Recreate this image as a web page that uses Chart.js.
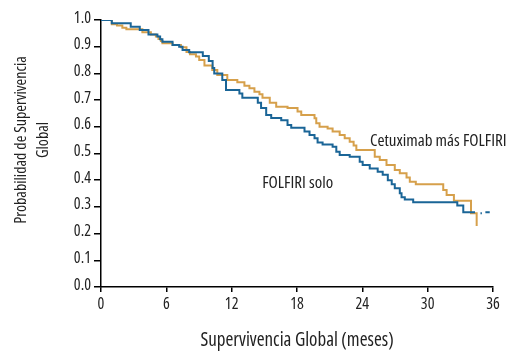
<!DOCTYPE html>
<html>
<head>
<meta charset="utf-8">
<script src="https://cdn.jsdelivr.net/npm/chart.js@4.4.0/dist/chart.umd.min.js"></script>
<style>
html, body { margin: 0; padding: 0; background: #fff; }
#km { display: block; }
</style>
</head>
<body>
<canvas id="km" width="518" height="353"></canvas>
<script>
var FONT = '"Open Sans", "Liberation Sans", sans-serif';
var STRETCH = 'condensed'; // narrow face, like the original's condensed sans

// Axis ticks
var xTicks = [0, 6, 12, 18, 24, 30, 36];
var yTicks = [0, 0.1, 0.2, 0.3, 0.4, 0.5, 0.6, 0.7, 0.8, 0.9, 1.0];

// FOLFIRI solo
var soloMonths = [0, 0.99, 2.73, 3.56, 4.36, 5.18, 5.43, 5.64, 6.57, 7.18, 7.49, 8.10, 9.35, 9.9, 10.25, 10.4,
    11.14, 11.48, 12.71, 12.98, 14.4, 14.7, 15.17, 15.63, 16.55, 17.13, 17.47, 18.69, 19.15, 19.61, 19.89,
    20.35, 21.27, 21.61, 21.92, 22.84, 23.76, 24.03, 24.68, 25.41, 25.87, 26.34, 26.7, 26.98, 27.44, 27.6,
    27.9, 28.67, 32.72, 33.27, 34.35, 34.6, 34.85, 34.98, 35.1, 35.3, 35.7];
var soloSurv = [1.0, 0.988, 0.975, 0.963, 0.946, 0.938, 0.928, 0.919, 0.906, 0.900, 0.888, 0.879, 0.865, 0.846, 0.82, 0.80,
    0.775, 0.738, 0.725, 0.709, 0.69, 0.67, 0.644, 0.633, 0.625, 0.607, 0.596, 0.582, 0.569, 0.557, 0.541,
    0.534, 0.525, 0.507, 0.494, 0.488, 0.469, 0.457, 0.444, 0.432, 0.42, 0.40, 0.385, 0.37, 0.351, 0.336,
    0.328, 0.317, 0.305, 0.28, 0.28, null, 0.276, 0.276, null, 0.28, 0.28];

// Cetuximab más FOLFIRI
var cetuxMonths = [0, 0.99, 1.47, 1.96, 2.33, 3.80, 4.58, 5.04, 5.28, 5.50, 5.64, 6.57, 7.34, 7.85, 8.17, 8.72,
    9.02, 9.5, 10.22, 10.68, 11.6, 12.52, 13.17, 13.63, 14.09, 14.55, 14.83, 15.5, 16.09, 17.13, 18.05, 18.39,
    19.61, 19.77, 20.07, 20.81, 21.27, 21.92, 22.38, 22.84, 23.2, 23.45, 25.14, 25.6, 26.22, 26.98, 27.44,
    28.06, 28.36, 28.91, 31.43, 31.74, 32.41, 33.98, 34.5];
var cetuxSurv = [1.0, 0.984, 0.979, 0.971, 0.965, 0.954, 0.946, 0.938, 0.929, 0.921, 0.913, 0.906, 0.898, 0.88, 0.872, 0.863,
    0.85, 0.83, 0.813, 0.794, 0.775, 0.767, 0.754, 0.744, 0.731, 0.722, 0.709, 0.69, 0.675, 0.67, 0.657, 0.644,
    0.632, 0.613, 0.60, 0.594, 0.582, 0.569, 0.557, 0.544, 0.53, 0.513, 0.488, 0.476, 0.457, 0.438, 0.426,
    0.41, 0.394, 0.385, 0.363, 0.345, 0.323, 0.276, 0.228];

var seriesNames = ['FOLFIRI solo', 'Cetuximab más FOLFIRI'];
var seriesColors = ['#1a6597', '#d6a04b'];
// where the curve labels sit, in data units [month, survival]
var labelSpots = [[14.8, 0.371], [24.7, 0.528]];

function toPoints(xs, ys) {
    var pts = [];
    for (var i = 0; i < xs.length; i++) {
        pts.push({x: xs[i], y: ys[i]});
    }
    return pts;
}

// Curve labels and the two-line y title
var textPlugin = {
    id: 'kmText',
    afterDraw: function(chart) {
        var ctx = chart.ctx;
        var xs = chart.scales.x, ys = chart.scales.y;
        ctx.save();
        ctx.fillStyle = '#222';
        ctx.font = STRETCH + ' 17px ' + FONT;
        ctx.textAlign = 'left';
        ctx.textBaseline = 'alphabetic';
        for (var i = 0; i < seriesNames.length; i++) {
            ctx.fillText(seriesNames[i], xs.getPixelForValue(labelSpots[i][0]), ys.getPixelForValue(labelSpots[i][1]));
        }
        ctx.translate(0, 140);
        ctx.rotate(-Math.PI / 2);
        ctx.textAlign = 'center';
        ctx.textBaseline = 'middle';
        ctx.font = STRETCH + ' 16px ' + FONT;
        ctx.fillText('Probabilidad de Supervivencia', 0, 21);
        ctx.fillText('Global', 0, 43);
        ctx.restore();
    }
};

var ctx = document.getElementById('km').getContext('2d');
var kmChart = new Chart(ctx, {
    type: 'line',
    data: {
        datasets: [
            {
                label: seriesNames[0],
                data: toPoints(soloMonths, soloSurv),
                borderColor: seriesColors[0],
                borderWidth: 2,
                stepped: true,
                pointRadius: 0,
                fill: false,
                spanGaps: false
            },
            {
                label: seriesNames[1],
                data: toPoints(cetuxMonths, cetuxSurv),
                borderColor: seriesColors[1],
                borderWidth: 2,
                stepped: true,
                pointRadius: 0,
                fill: false
            }
        ]
    },
    options: {
        responsive: false,
        animation: false,
        layout: {padding: {top: 20, right: 25, left: 0, bottom: 0}},
        plugins: {
            legend: {display: false},
            tooltip: {enabled: false}
        },
        scales: {
            x: {
                type: 'linear',
                min: 0,
                max: 36,
                afterBuildTicks: function(scale) {
                    scale.ticks = xTicks.map(function(v) { return {value: v}; });
                },
                afterFit: function(scale) { scale.height = 66; },
                grid: {display: true, drawOnChartArea: false, drawTicks: true, tickLength: 5, color: '#000', lineWidth: 1.5},
                border: {display: true, color: '#000', width: 1.5},
                ticks: {color: '#222', font: {family: FONT, size: 16, weight: STRETCH}, padding: 3, maxRotation: 0},
                title: {display: true, text: 'Supervivencia Global (meses)', color: '#222',
                    font: {family: FONT, size: 19, weight: STRETCH}, padding: {top: 0, bottom: 1}}
            },
            y: {
                min: 0,
                max: 1,
                afterBuildTicks: function(scale) {
                    scale.ticks = yTicks.map(function(v) { return {value: v}; });
                },
                afterFit: function(scale) { scale.width = 101; },
                grid: {display: true, drawOnChartArea: false, drawTicks: true, tickLength: 7, color: '#000', lineWidth: 1.5},
                border: {display: true, color: '#000', width: 1.5},
                ticks: {
                    color: '#222',
                    font: {family: FONT, size: 16, weight: STRETCH},
                    padding: 3,
                    labelOffset: -2,
                    callback: function(v) { return v.toFixed(1); }
                }
            }
        }
    },
    plugins: [textPlugin]
});
</script>
</body>
</html>
